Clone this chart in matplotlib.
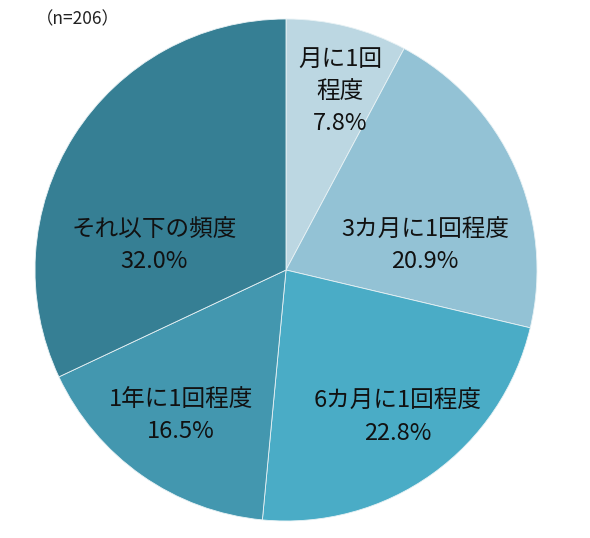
import matplotlib.pyplot as plt

plt.rcParams['font.family'] = ['Noto Sans CJK JP', 'DejaVu Sans']

# データ
categories = ["月に1回\n程度", "3カ月に1回程度", "6カ月に1回程度", "1年に1回程度", "それ以下の頻度"]
shares = [7.8, 20.9, 22.8, 16.5, 32.0]
colors = ["#bcd7e2", "#93c2d5", "#4aacc6", "#4397af", "#367f94"]
label_xy = [(340, 91), (425, 246), (398, 417), (181, 415), (154, 245)]

fig = plt.figure(figsize=(5.9, 5.38), dpi=100)
ax = fig.add_axes([0, 0, 1, 1])

# y軸を反転しているので counterclock=True で時計回りになる
ax.pie(shares, colors=colors, startangle=-90, counterclock=True,
       center=(286, 270), radius=251, frame=True,
       wedgeprops=dict(edgecolor="#e8f2f5", linewidth=0.6))
ax.set_xlim(0, 590)
ax.set_ylim(538, 0)
ax.set_aspect("equal")
ax.axis("off")

for cat, val, (x, y) in zip(categories, shares, label_xy):
    ax.text(x, y, f"{cat}\n{val:.1f}%", ha="center", va="center",
            fontsize=17, color="#111111", linespacing=1.5)

ax.text(36, 19, "（n=206）", ha="left", va="center", fontsize=12.5, color="#222222")

fig.savefig("out.png", dpi=100)
